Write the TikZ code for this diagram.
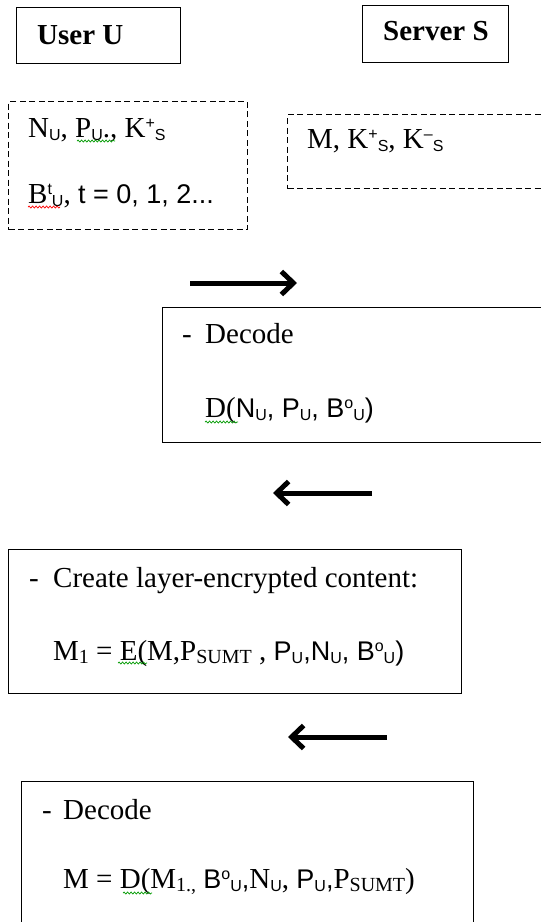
\documentclass[tikz,border=0pt]{standalone}
\usepackage{fontspec}
\setmainfont{Liberation Serif}
\setsansfont{Liberation Sans}
\usetikzlibrary{arrows.meta,decorations.pathmorphing}

% small sub- and superscripts, and sans runs of text
\newcommand{\lo}[1]{\raisebox{-3pt}{\sffamily\fontsize{16}{16}\selectfont #1}}
\newcommand{\hi}[1]{\raisebox{9pt}{\sffamily\fontsize{16}{16}\selectfont #1}}
\newcommand{\rlo}[1]{\raisebox{-3pt}{\fontsize{20}{20}\selectfont #1}}
\newcommand{\sns}[1]{{\sffamily\fontsize{27}{30}\selectfont #1}}

\tikzset{
  box/.style={draw, line width=1.1pt, anchor=north west, inner sep=0pt},
  dbox/.style={box, dash pattern=on 6pt off 3.5pt},
  txt/.style={anchor=base west, inner sep=0pt, font=\fontsize{29}{34}\selectfont},
  msg/.style={line width=5pt, -{Straight Barb[length=12pt,width=23pt]}},
  typo/.style={decorate, decoration={snake, amplitude=1pt, segment length=3.5pt}, line width=0.7pt}
}

\begin{document}
\begin{tikzpicture}[x=1pt,y=-1pt]
\useasboundingbox (0,0) rectangle (541,922);
\clip (0,0) rectangle (541,922);

% the two parties
\node[box, minimum width=164pt, minimum height=56pt] (user) at (16,7) {};
\node[txt, font=\fontsize{29}{34}\selectfont\bfseries] (userlbl) at (37,44) {User U};
\node[box, minimum width=146pt, minimum height=57pt] (server) at (362,5) {};
\node[txt, font=\fontsize{29}{34}\selectfont\bfseries] (serverlbl) at (383,40) {Server S};

% what each side knows
\node[dbox, minimum width=239pt, minimum height=128pt] (uknow) at (8,101) {};
\node[txt] (uknowa) at (28,137) {N\lo{U}, P\lo{U}., K\hi{+}\lo{S}};
\node[txt] (uknowb) at (28,203) {B\hi{t}\lo{U}, \sns{t = 0, 1, 2...}};
\node[dbox, minimum width=270pt, minimum height=74pt] (sknow) at (287,114) {};
\node[txt] (sknowa) at (307,148) {M, K\hi{+}\lo{S}, K\hi{--}\lo{S}};

% step 1: server decodes
\coordinate (m1a) at (190,283);
\coordinate (m1b) at (297,283);
\draw[msg] (m1a) -- (m1b);
\node[box, minimum width=390pt, minimum height=135pt] (dec1) at (162,307) {};
\node[txt] (dec1a) at (182,343) {\makebox[23pt][l]{-}Decode};
\node[txt] (dec1b) at (205,417) {D(\sns{N\lo{U}, P\lo{U}, B\hi{o}\lo{U})}};

% step 2: layer-encrypted content
\coordinate (m2a) at (372,493);
\coordinate (m2b) at (273,493);
\draw[msg] (m2a) -- (m2b);
\node[box, minimum width=453pt, minimum height=144pt] (enc) at (8,549) {};
\node[txt] (enca) at (29,587) {\makebox[24pt][l]{-}Create layer-encrypted content:};
\node[txt] (encb) at (53,660) {M\rlo{1} = E(M,P\rlo{SUMT} , \sns{P\lo{U},N\lo{U}, B\hi{o}\lo{U})}};

% step 3: user decodes
\coordinate (m3a) at (387,737);
\coordinate (m3b) at (288,737);
\draw[msg] (m3a) -- (m3b);
\node[box, minimum width=452pt, minimum height=160pt] (dec2) at (21,781) {};
\node[txt] (dec2a) at (42,819) {\makebox[21pt][l]{-}Decode};
\node[txt] (dec2b) at (63,888) {M = D(M\rlo{1.,} \sns{B\hi{o}\lo{U},}N\lo{U}, \sns{P\lo{U},}P\rlo{SUMT})};

% spell-check marks
\draw[typo, green!60!black] (77,141) -- (115,141);
\draw[typo, red] (28,207) -- (60,207);
\draw[typo, green!60!black] (205,422) -- (238,422);
\draw[typo, green!60!black] (118,663) -- (147,663);
\draw[typo, green!60!black] (123,893) -- (152,893);
\end{tikzpicture}
\end{document}
